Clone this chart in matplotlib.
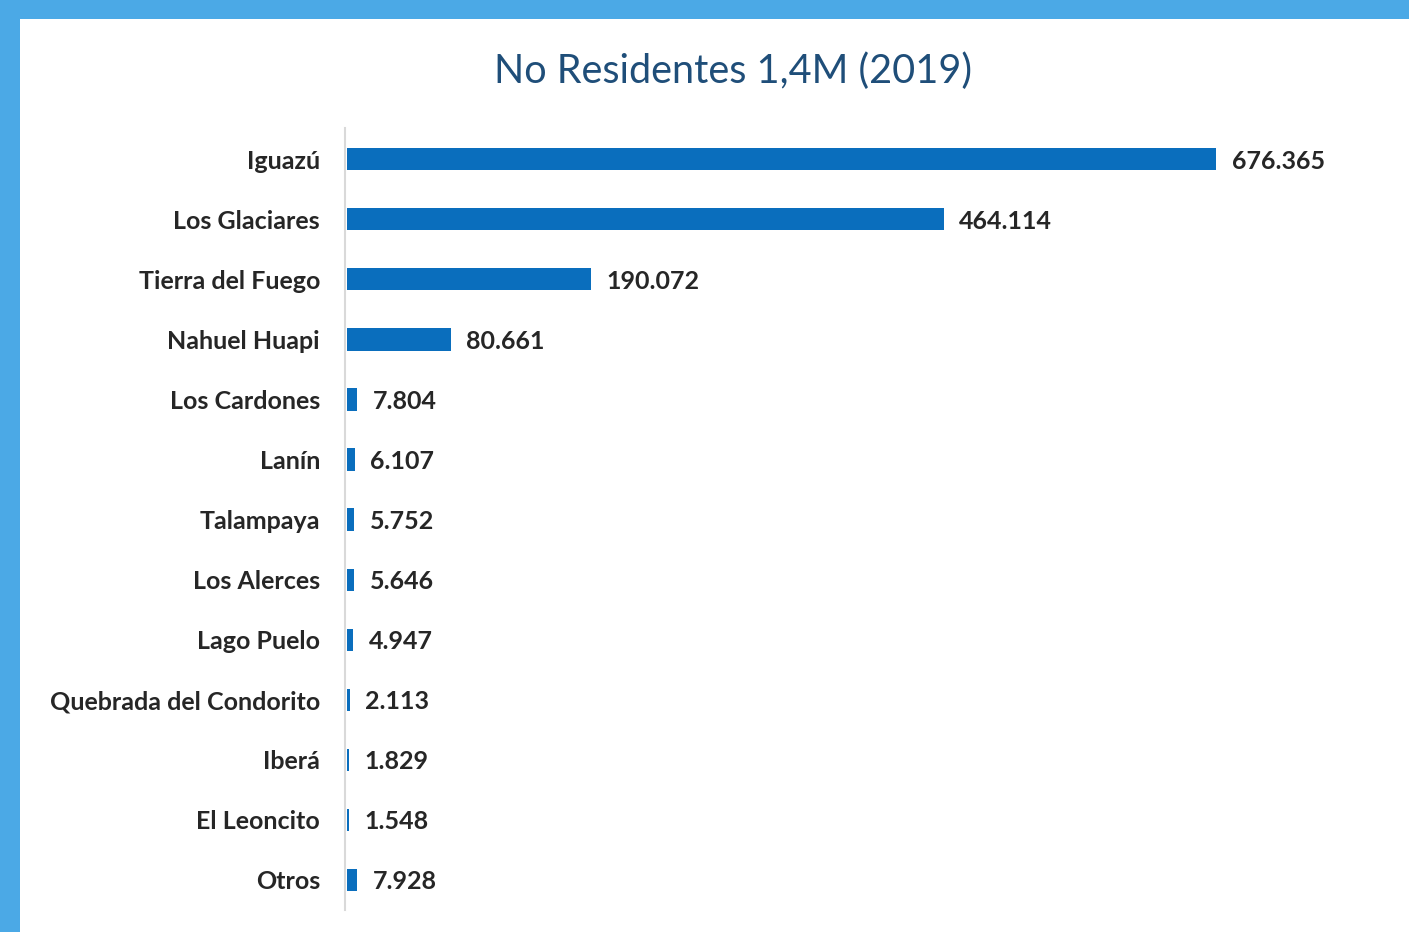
import matplotlib
matplotlib.use("Agg")
import matplotlib.pyplot as plt
from matplotlib.patches import Rectangle

categories = ["Iguazú", "Los Glaciares", "Tierra del Fuego", "Nahuel Huapi",
              "Los Cardones", "Lanín", "Talampaya", "Los Alerces", "Lago Puelo",
              "Quebrada del Condorito", "Iberá", "El Leoncito", "Otros"]
values = [676365, 464114, 190072, 80661, 7804, 6107, 5752, 5646, 4947,
          2113, 1829, 1548, 7928]
value_labels = ["676.365", "464.114", "190.072", "80.661", "7.804", "6.107",
                "5.752", "5.646", "4.947", "2.113", "1.829", "1.548", "7.928"]
title = "No Residentes 1,4M (2019)"

W, H = 1409, 932
fig = plt.figure(figsize=(W / 100, H / 100), dpi=100)
fig.patch.set_facecolor("white")

border = "#4BA9E6"
fig.patches.append(Rectangle((0, 1 - 19 / H), 1, 19 / H, transform=fig.transFigure,
                             facecolor=border, edgecolor="none", zorder=10))
fig.patches.append(Rectangle((0, 0), 20 / W, 1, transform=fig.transFigure,
                             facecolor=border, edgecolor="none", zorder=10))

left_px, right_px = 345, 1390
top_px, bot_px = 128, 910
ax = fig.add_axes([left_px / W, 1 - bot_px / H, (right_px - left_px) / W, (bot_px - top_px) / H])

ypos = list(range(len(categories)))
ax.barh(ypos, values, height=0.37, color="#0A6EBD", left=0)
xmax = max(values) * (right_px - left_px) / (1218 - 347)
ax.set_xlim(-xmax * 0.002, xmax)
ax.set_ylim(len(categories) - 0.5, -0.52)

for y, v, lab in zip(ypos, values, value_labels):
    ax.annotate(lab, (v, y), xytext=(11, 0), textcoords="offset points",
                va="center_baseline", ha="left", fontsize=18, fontweight="bold",
                color="#262626", family="Lato")

ax.set_yticks(ypos)
ax.set_yticklabels(categories, fontsize=18, fontweight="bold", color="#262626", family="Lato")
for t in ax.get_yticklabels():
    t.set_verticalalignment("center_baseline")
ax.tick_params(axis="y", length=0, pad=18)
ax.set_xticks([])
for s in ["top", "right", "bottom"]:
    ax.spines[s].set_visible(False)
ax.spines["left"].set_color("#D9D9D9")
ax.spines["left"].set_linewidth(1.5)

fig.text(733 / W, 1 - 71 / H, title, ha="center", va="center", fontsize=28.5,
         color="#1F4E79", family="Lato")

fig.savefig("out.png", dpi=100)
